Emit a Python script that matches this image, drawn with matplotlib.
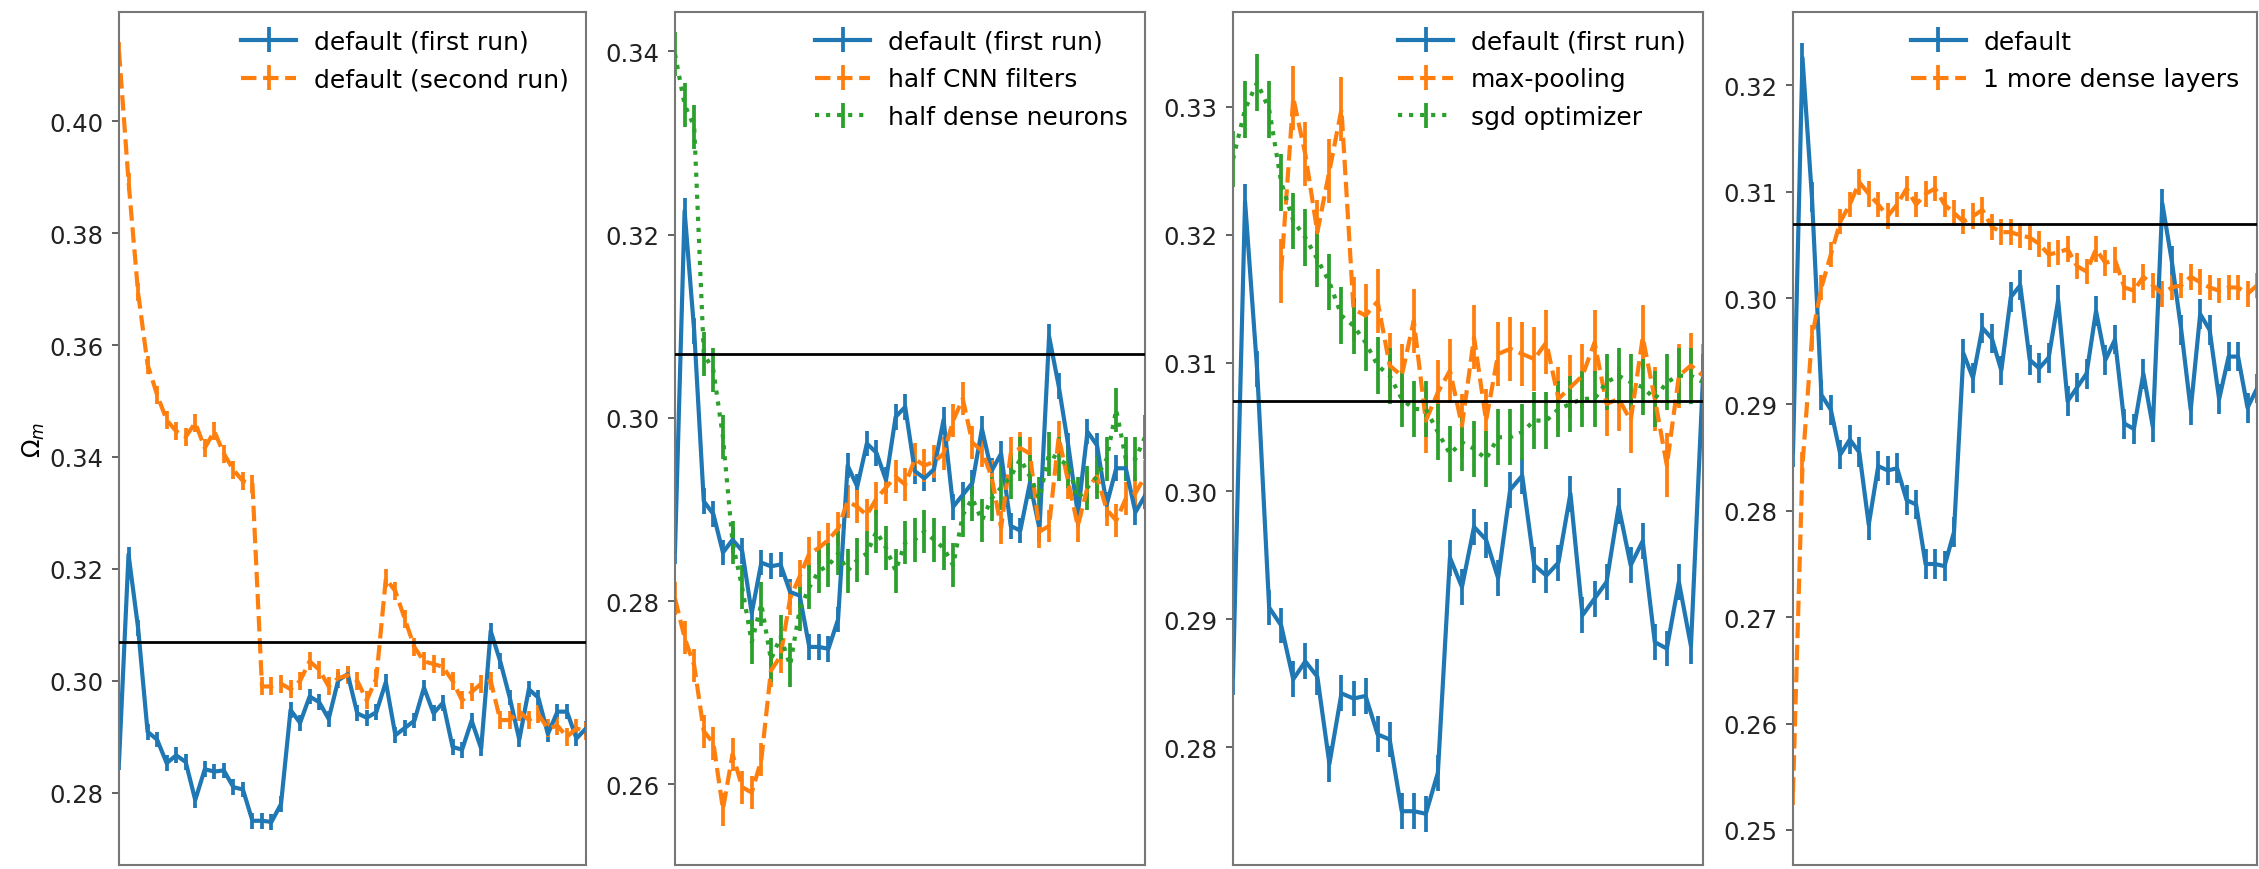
import matplotlib
matplotlib.use("Agg")
import matplotlib.pyplot as plt
from matplotlib.ticker import FormatStrFormatter
import numpy as np

# Omega_m estimates versus training step for several network variants
omega_true = 0.307

default_first = [0.2855, 0.3226, 0.3095, 0.2909, 0.2895, 0.2853, 0.2867, 0.2855, 0.2787, 0.2842,
                 0.2838, 0.2840, 0.2810, 0.2806, 0.2750, 0.2750, 0.2748, 0.2780, 0.2948, 0.2925,
                 0.2972, 0.2962, 0.2932, 0.3001, 0.3012, 0.2942, 0.2934, 0.2944, 0.2998, 0.2903,
                 0.2916, 0.2929, 0.2988, 0.2942, 0.2961, 0.2882, 0.2877, 0.2929, 0.2879, 0.3089,
                 0.3035, 0.2970, 0.2895, 0.2985, 0.2970, 0.2905, 0.2945, 0.2945, 0.2897, 0.2915]

default_second = [0.4125, 0.3892, 0.3694, 0.3565, 0.3511, 0.3466, 0.3446, 0.3436, 0.3461, 0.3416,
                  0.3446, 0.3406, 0.3377, 0.3357, 0.3352, 0.2990, 0.2990, 0.2995, 0.2985, 0.3000,
                  0.3035, 0.3020, 0.2990, 0.3005, 0.3010, 0.3000, 0.2965, 0.3005, 0.3183, 0.3160,
                  0.3110, 0.3060, 0.3035, 0.3030, 0.3025, 0.3000, 0.2965, 0.2980, 0.2995, 0.3000,
                  0.2930, 0.2930, 0.2945, 0.2930, 0.2940, 0.2915, 0.2920, 0.2900, 0.2915, 0.2910]

half_cnn = [0.2803, 0.2760, 0.2730, 0.2658, 0.2645, 0.2573, 0.2633, 0.2597, 0.2591, 0.2627,
            0.2724, 0.2740, 0.2803, 0.2827, 0.2852, 0.2858, 0.2867, 0.2879, 0.2909, 0.2903,
            0.2894, 0.2912, 0.2924, 0.2936, 0.2927, 0.2955, 0.2948, 0.2952, 0.2961, 0.2997,
            0.3021, 0.2973, 0.2964, 0.2936, 0.2880, 0.2961, 0.2967, 0.2961, 0.2876, 0.2882,
            0.2979, 0.2930, 0.2882, 0.2924, 0.2936, 0.2900, 0.2888, 0.2912, 0.2918, 0.2936]

half_dense = [0.3397, 0.3342, 0.3318, 0.3070, 0.3052, 0.2979, 0.2864, 0.2815, 0.2755, 0.2797,
              0.2736, 0.2761, 0.2730, 0.2791, 0.2815, 0.2833, 0.2839, 0.2852, 0.2833, 0.2845,
              0.2852, 0.2876, 0.2858, 0.2833, 0.2864, 0.2867, 0.2876, 0.2867, 0.2858, 0.2839,
              0.2894, 0.2912, 0.2888, 0.2912, 0.2924, 0.2936, 0.2955, 0.2936, 0.2912, 0.2961,
              0.2955, 0.2948, 0.2912, 0.2924, 0.2936, 0.2955, 0.3009, 0.2955, 0.2955, 0.2979]

# max-pooling run is recorded from step 4 onwards
max_pooling_first_step = 4
max_pooling = [0.3172, 0.3307, 0.3263, 0.3202, 0.3250, 0.3298,
               0.3142, 0.3137, 0.3148, 0.3098, 0.3090, 0.3133, 0.3055, 0.3077, 0.3094, 0.3051,
               0.3120, 0.3055, 0.3107, 0.3111, 0.3107, 0.3103, 0.3116, 0.3072, 0.3081, 0.3090,
               0.3116, 0.3068, 0.3072, 0.3055, 0.3120, 0.3072, 0.3020, 0.3090, 0.3098, 0.3090]

sgd = [0.3259, 0.3298, 0.3319, 0.3298, 0.3241, 0.3211, 0.3198, 0.3181, 0.3163, 0.3137,
       0.3129, 0.3116, 0.3098, 0.3090, 0.3072, 0.3064, 0.3064, 0.3046, 0.3029, 0.3038,
       0.3033, 0.3025, 0.3042, 0.3042, 0.3046, 0.3055, 0.3055, 0.3064, 0.3068, 0.3072,
       0.3072, 0.3085, 0.3090, 0.3085, 0.3081, 0.3072, 0.3085, 0.3090, 0.3090, 0.3085]

more_dense = [0.2535, 0.2843, 0.2963, 0.3010, 0.3041, 0.3072, 0.3088, 0.3109, 0.3098, 0.3088,
              0.3077, 0.3088, 0.3103, 0.3088, 0.3098, 0.3103, 0.3088, 0.3080, 0.3072, 0.3077,
              0.3083, 0.3067, 0.3062, 0.3062, 0.3059, 0.3057, 0.3051, 0.3041, 0.3043, 0.3046,
              0.3030, 0.3025, 0.3046, 0.3033, 0.3036, 0.3010, 0.3007, 0.3020, 0.3012, 0.3004,
              0.3010, 0.3012, 0.3020, 0.3015, 0.3010, 0.3007, 0.3010, 0.3010, 0.3004, 0.3012]

# 1-sigma uncertainty of each curve
err_default_first = 0.0014
err_default_second = 0.0016
err_half_cnn = 0.0018
err_half_dense = 0.0024
err_max_pooling = 0.0025
err_sgd = 0.0022
err_more_dense = 0.0012

C_BLUE, C_ORANGE, C_GREEN = "#1f77b4", "#ff7f0e", "#2ca02c"
LW = 3.0
FS = 17.5
FS_LEG = 18.0

panels = [
    dict(curves=[(default_first, 0, err_default_first, "-", C_BLUE, "default (first run)"),
                 (default_second, 0, err_default_second, "--", C_ORANGE, "default (second run)")],
         xmax=49, ylim=(0.2671, 0.4195), yticks=[0.28, 0.30, 0.32, 0.34, 0.36, 0.38, 0.40]),
    dict(curves=[(default_first, 0, err_default_first, "-", C_BLUE, "default (first run)"),
                 (half_cnn, 0, err_half_cnn, "--", C_ORANGE, "half CNN filters"),
                 (half_dense, 0, err_half_dense, ":", C_GREEN, "half dense neurons")],
         xmax=49, ylim=(0.2512, 0.3443), yticks=[0.26, 0.28, 0.30, 0.32, 0.34]),
    dict(curves=[(default_first, 0, err_default_first, "-", C_BLUE, "default (first run)"),
                 (max_pooling, max_pooling_first_step, err_max_pooling, "--", C_ORANGE, "max-pooling"),
                 (sgd, 0, err_sgd, ":", C_GREEN, "sgd optimizer")],
         xmax=39, ylim=(0.2708, 0.3374), yticks=[0.28, 0.29, 0.30, 0.31, 0.32, 0.33]),
    dict(curves=[(default_first, 0, err_default_first, "-", C_BLUE, "default"),
                 (more_dense, 0, err_more_dense, "--", C_ORANGE, "1 more dense layers")],
         xmax=49, ylim=(0.2467, 0.3269), yticks=[0.25, 0.26, 0.27, 0.28, 0.29, 0.30, 0.31, 0.32]),
]

W, H = 2259, 870
fig = plt.figure(figsize=(W / 100, H / 100), dpi=100, facecolor="white")

lefts = [119, 675, 1233, 1793]
widths = [467, 470, 470, 464]
top_px, bottom_px = 13, 866

for i, (p, lpx, wpx) in enumerate(zip(panels, lefts, widths)):
    ax = fig.add_axes([lpx / W, 1 - bottom_px / H, wpx / W, (bottom_px - top_px) / H])
    for values, start, err, ls, color, label in p["curves"]:
        x = np.arange(start, start + len(values))
        ax.errorbar(x, values, yerr=err, linestyle=ls, color=color, lw=LW,
                    elinewidth=LW * 0.9, capsize=0, label=label)
    ax.axhline(omega_true, color="black", lw=2.0, zorder=5)
    ax.set_xlim(0, p["xmax"])
    ax.set_ylim(*p["ylim"])
    ax.set_yticks(p["yticks"])
    ax.yaxis.set_major_formatter(FormatStrFormatter("%.2f"))
    ax.set_xticks([])
    ax.tick_params(axis="y", labelsize=FS, length=5, width=1.3, color="#555555",
                   labelcolor="#222222", pad=6)
    for s in ax.spines.values():
        s.set_color("#777777")
        s.set_linewidth(1.5)
    if i == 0:
        ax.set_ylabel(r"$\Omega_m$", fontsize=FS, labelpad=2)
    ax.legend(loc="upper right", fontsize=FS_LEG, frameon=False, handlelength=2.2,
              labelspacing=0.55, handletextpad=0.7, borderaxespad=0.3)

fig.savefig("out.png", dpi=100, facecolor="white")
